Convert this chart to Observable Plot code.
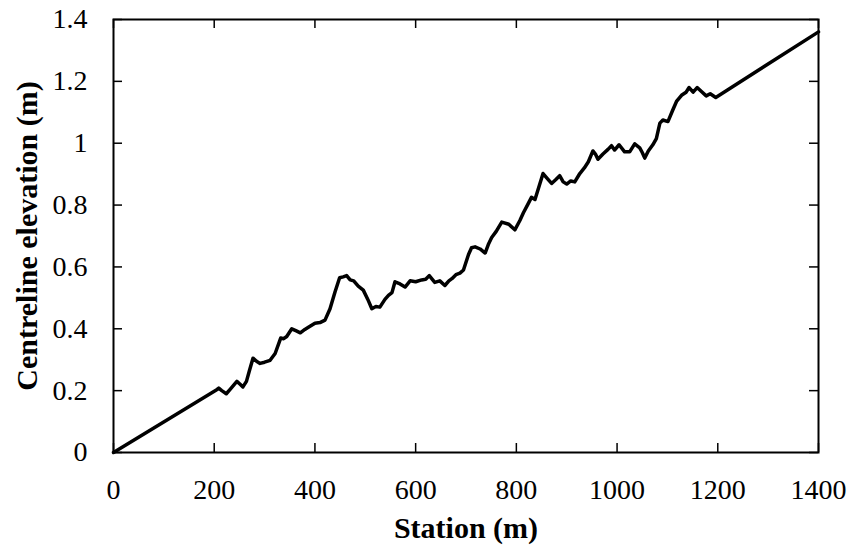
<!DOCTYPE html>
<html>
<head>
<meta charset="utf-8">
<script src="https://cdn.jsdelivr.net/npm/d3@7"></script>
<script src="https://cdn.jsdelivr.net/npm/@observablehq/plot@0.6"></script>
<style>
  html, body { margin: 0; padding: 0; background: #fff; }
  svg text { font-family: 'Liberation Serif', 'Times New Roman', serif !important; }
</style>
</head>
<body>
<div id="chart"></div>
<script>
const station = [0, 205, 209, 215, 224, 232, 245, 252, 257, 264, 270, 277, 284, 291, 300, 311, 321, 332, 338, 344, 354, 362, 371, 380, 387, 400, 410, 420, 430, 440, 449, 456, 463, 470, 477, 486, 496, 505, 513, 521, 529, 539, 546, 553, 559, 569, 579, 589, 600, 612, 620, 627, 638, 648, 658, 666, 672, 680, 688, 695, 705, 711, 718, 728, 738, 745, 751, 760, 771, 785, 797, 807, 814, 822, 830, 837, 845, 853, 862, 870, 878, 886, 893, 900, 908, 916, 926, 935, 943, 952, 957, 962, 972, 982, 989, 995, 1004, 1015, 1025, 1035, 1045, 1050, 1055, 1062, 1071, 1078, 1085, 1091, 1101, 1110, 1118, 1128, 1137, 1143, 1151, 1159, 1167, 1177, 1185, 1196, 1400];
const elevation = [0, 0.203, 0.208, 0.200, 0.190, 0.205, 0.230, 0.220, 0.212, 0.230, 0.265, 0.305, 0.295, 0.288, 0.292, 0.298, 0.320, 0.370, 0.368, 0.375, 0.400, 0.394, 0.387, 0.398, 0.405, 0.418, 0.420, 0.428, 0.465, 0.520, 0.565, 0.568, 0.572, 0.558, 0.555, 0.538, 0.525, 0.495, 0.465, 0.472, 0.470, 0.495, 0.508, 0.517, 0.552, 0.545, 0.535, 0.555, 0.552, 0.558, 0.560, 0.572, 0.550, 0.555, 0.540, 0.555, 0.562, 0.575, 0.580, 0.590, 0.640, 0.662, 0.665, 0.658, 0.645, 0.675, 0.695, 0.715, 0.745, 0.738, 0.720, 0.750, 0.775, 0.800, 0.825, 0.818, 0.860, 0.902, 0.885, 0.870, 0.882, 0.895, 0.875, 0.868, 0.878, 0.875, 0.902, 0.920, 0.940, 0.975, 0.965, 0.948, 0.965, 0.980, 0.992, 0.978, 0.995, 0.972, 0.972, 0.998, 0.985, 0.970, 0.952, 0.975, 0.995, 1.015, 1.065, 1.075, 1.070, 1.105, 1.135, 1.155, 1.165, 1.180, 1.165, 1.180, 1.168, 1.153, 1.160, 1.148, 1.36];
const xTicks = [0, 200, 400, 600, 800, 1000, 1200, 1400];
const yTicks = [0, 0.2, 0.4, 0.6, 0.8, 1, 1.2, 1.4];
const xLabel = "Station (m)";
const yLabel = "Centreline elevation (m)";

const data = station.map((s, i) => ({station: s, elevation: elevation[i]}));

const W = 854, H = 552;
const mL = 113, mR = 36, mT = 19, mB = 100;
const innerW = W - mL - mR, innerH = H - mT - mB;
const tickLen = 9;
const serif = "'Liberation Serif', 'Times New Roman', serif";

const chart = Plot.plot({
  width: W,
  height: H,
  marginLeft: mL,
  marginRight: mR,
  marginTop: mT,
  marginBottom: mB,
  style: {fontFamily: serif, background: "#fff", color: "#000"},
  x: {domain: [0, 1400]},
  y: {domain: [0, 1.4]},
  marks: [
    Plot.axisX({ticks: xTicks, tickSize: 0, tickPadding: 27, fontSize: 28, fontFamily: serif, label: null, tickFormat: d => String(d)}),
    Plot.axisY({ticks: yTicks, tickSize: 0, tickPadding: 26, fontSize: 28, fontFamily: serif, label: null, tickFormat: d => String(d)}),
    Plot.tickX(xTicks, {x: d => d, insetTop: innerH - tickLen, stroke: "#000", strokeWidth: 1.5}),
    Plot.tickX(xTicks, {x: d => d, insetBottom: innerH - tickLen, stroke: "#000", strokeWidth: 1.5}),
    Plot.tickY(yTicks, {y: d => d, insetRight: innerW - tickLen, stroke: "#000", strokeWidth: 1.5}),
    Plot.tickY(yTicks, {y: d => d, insetLeft: innerW - tickLen, stroke: "#000", strokeWidth: 1.5}),
    Plot.line(data, {x: "station", y: "elevation", stroke: "#000", strokeWidth: 3.5, strokeLinejoin: "round", strokeLinecap: "round", curve: "linear"}),
    Plot.frame({stroke: "#000", strokeWidth: 2}),
    Plot.text([xLabel], {text: d => d, frameAnchor: "bottom", lineAnchor: "middle", dy: 76, fontSize: 30, fontWeight: "bold", fontFamily: serif, fill: "#000"}),
    Plot.text([yLabel], {text: d => d, frameAnchor: "left", textAnchor: "middle", lineAnchor: "middle", dx: -86, rotate: -90, fontSize: 30, fontWeight: "bold", fontFamily: serif, fill: "#000"})
  ]
});
document.getElementById("chart").appendChild(chart);
</script>
</body>
</html>
